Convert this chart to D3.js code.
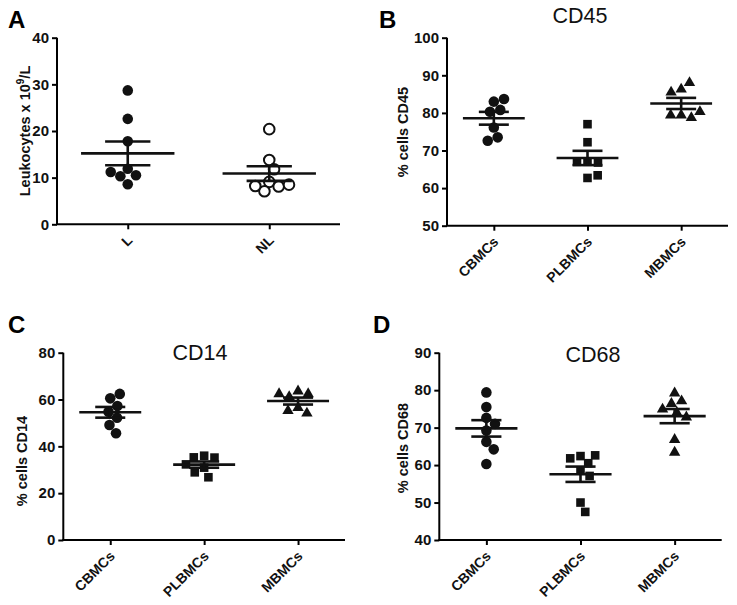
<!DOCTYPE html>
<html>
<head>
<script src="https://cdn.jsdelivr.net/npm/d3@7"></script>
<style>
  body { margin: 0; background: #fff; }
  text { font-family: "Liberation Sans", Arial, sans-serif; }
</style>
</head>
<body>
<script>
// values
var groupsA = ["L", "NL"];
var leukoL = [28.7, 22.6, 17.8, 11.9, 10.5, 10.3, 11.2, 8.6];
var leukoNL = [20.4, 13.8, 11.8, 9.1, 8.1, 7.1, 8.2, 8.5];

var groups3 = ["CBMCs", "PLBMCs", "MBMCs"];
var cd45CB = [83.0, 83.7, 80.8, 80.3, 76.1, 73.5, 72.6];
var cd45PL = [77.0, 72.2, 67.0, 66.8, 67.0, 62.7, 63.4];
var cd45MB = [86.3, 88.0, 85.5, 79.4, 78.7, 79.4, 80.3];

var cd14CB = [60.5, 62.4, 57.2, 54.8, 52.2, 49.1, 45.6];
var cd14PL = [36.0, 35.2, 35.3, 30.9, 32.3, 26.8, 28.9];
var cd14MB = [63.6, 62.4, 61.2, 62.4, 56.5, 54.1, 55.2];

var cd68CB = [79.4, 75.5, 72.6, 71.0, 69.2, 66.2, 64.2, 60.3];
var cd68PL = [62.4, 60.5, 61.8, 62.6, 58.5, 57.1, 50.0, 47.5];
var cd68MB = [79.2, 77.1, 76.4, 74.9, 74.0, 72.8, 66.8, 63.4];

var ticksA = [0, 10, 20, 30, 40];
var ticksB = [50, 60, 70, 80, 90, 100];
var ticksC = [0, 20, 40, 60, 80];
var ticksD = [40, 50, 60, 70, 80, 90];

var svg = d3.select("body").append("svg")
  .attr("width", 737)
  .attr("height", 605)
  .style("background-color", "white");

// spread overlapping points sideways, like a scatter dot plot
function swarm(ys, D) {
  var placed = [];
  ys.forEach(function(y) {
    var cands = [0];
    placed.forEach(function(p) {
      var dy = Math.abs(p.y - y);
      if (dy < D) {
        var dx = Math.sqrt(D * D - dy * dy);
        cands.push(p.x + dx, p.x - dx);
      }
    });
    cands.sort(function(a, b) { return Math.abs(a) - Math.abs(b) || b - a; });
    var x = cands.find(function(c) {
      return placed.every(function(p) {
        return Math.hypot(p.x - c, p.y - y) >= D - 0.01;
      });
    });
    placed.push({x: x, y: y});
  });
  return placed.map(function(p) { return p.x; });
}

function panel(cfg) {
  var g = svg.append("g");
  var x = d3.scalePoint().domain(cfg.groups).range([cfg.x0, cfg.x1]).padding(0.5);
  var y = d3.scaleLinear().domain([cfg.ticks[0], cfg.ticks[cfg.ticks.length - 1]]).range([cfg.y1, cfg.y0]);
  var band = (cfg.x1 - cfg.x0) / cfg.groups.length;

  // y axis
  var ya = g.append("g")
    .attr("transform", "translate(" + cfg.x0 + ",0)")
    .call(d3.axisLeft(y).tickValues(cfg.ticks).tickSize(5).tickPadding(3).tickFormat(d3.format("d")));
  ya.select(".domain").attr("stroke-width", 2).attr("d", "M0," + cfg.y0 + "V" + cfg.y1);
  ya.selectAll(".tick line").attr("stroke-width", 2);
  ya.selectAll(".tick text").attr("font-size", 15).attr("font-weight", "bold").attr("fill", "#111");

  // x axis
  var xa = g.append("g")
    .attr("transform", "translate(0," + cfg.y1 + ")")
    .call(d3.axisBottom(x).tickSize(5).tickSizeOuter(0));
  xa.select(".domain").attr("stroke-width", 2).attr("d", "M" + (cfg.x0 - 1) + ",0H" + cfg.x1);
  xa.selectAll(".tick line").attr("stroke-width", 2);
  xa.selectAll(".tick text")
    .attr("font-size", 14).attr("font-weight", "bold").attr("fill", "#111")
    .attr("text-anchor", "end")
    .attr("y", 0).attr("dy", 0)
    .attr("transform", "translate(5,17) rotate(-45)");

  // y label
  var yl = g.append("text")
    .attr("transform", "translate(" + cfg.labelX + "," + cfg.labelY + ") rotate(-90)")
    .attr("text-anchor", "middle")
    .attr("font-size", 14.5)
    .attr("font-weight", "bold")
    .attr("fill", "#111");
  cfg.label(yl);

  // title
  if (cfg.title) {
    g.append("text")
      .attr("x", cfg.titleX).attr("y", cfg.titleY)
      .attr("text-anchor", "middle")
      .attr("font-size", 21.5)
      .attr("fill", "#111")
      .text(cfg.title);
  }

  // panel letter
  g.append("text")
    .attr("x", cfg.letterX).attr("y", cfg.letterY)
    .attr("font-size", 24).attr("font-weight", "bold")
    .text(cfg.letter);

  cfg.series.forEach(function(vals, i) {
    var cx = x(cfg.groups[i]);
    var ys = vals.map(function(v) { return y(v); });
    var offs = swarm(ys, 10.5);
    var sym = cfg.shapes[i];
    g.selectAll(null).data(vals).enter().append("path")
      .attr("d", d3.symbol().type(sym.type).size(sym.size))
      .attr("transform", function(d, k) { return "translate(" + (cx + offs[k]) + "," + ys[k] + ")"; })
      .attr("fill", sym.open ? "white" : "#111")
      .attr("stroke", sym.open ? "#111" : "none")
      .attr("stroke-width", 2);

    var m = d3.mean(vals);
    var sem = d3.deviation(vals) / Math.sqrt(vals.length);
    var hw = band * 0.33, cw = band * 0.16;
    var lines = [
      [cx - hw, y(m), cx + hw, y(m)],
      [cx - cw, y(m + sem), cx + cw, y(m + sem)],
      [cx - cw, y(m - sem), cx + cw, y(m - sem)],
      [cx, y(m + sem), cx, y(m - sem)]
    ];
    g.selectAll(null).data(lines).enter().append("line")
      .attr("x1", function(d) { return d[0]; })
      .attr("y1", function(d) { return d[1]; })
      .attr("x2", function(d) { return d[2]; })
      .attr("y2", function(d) { return d[3]; })
      .attr("stroke", "#111")
      .attr("stroke-width", 2.6);
  });
}

var circle = {type: d3.symbolCircle, size: 88};
var openCircle = {type: d3.symbolCircle, size: 88, open: true};
var square = {type: d3.symbolSquare, size: 74};
var triangle = {type: d3.symbolTriangle, size: 56};

panel({
  letter: "A", letterX: 8, letterY: 28,
  groups: groupsA, ticks: ticksA,
  x0: 57, x1: 340, y0: 37.7, y1: 224.3,
  labelX: 30, labelY: 131,
  label: function(t) {
    t.append("tspan").text("Leukocytes x 10");
    t.append("tspan").attr("font-size", 10).attr("dy", -6).text("9");
    t.append("tspan").attr("dy", 6).text("/L");
  },
  series: [leukoL, leukoNL],
  shapes: [circle, openCircle]
});

panel({
  letter: "B", letterX: 379, letterY: 28,
  title: "CD45", titleX: 580, titleY: 23,
  groups: groups3, ticks: ticksB,
  x0: 447, x1: 728, y0: 37.7, y1: 225.7,
  labelX: 408, labelY: 132,
  label: function(t) { t.text("% cells CD45"); },
  series: [cd45CB, cd45PL, cd45MB],
  shapes: [circle, square, triangle]
});

panel({
  letter: "C", letterX: 8, letterY: 333,
  title: "CD14", titleX: 200, titleY: 360,
  groups: groups3, ticks: ticksC,
  x0: 63.3, x1: 345, y0: 352.7, y1: 540,
  labelX: 27, labelY: 461,
  label: function(t) { t.text("% cells CD14"); },
  series: [cd14CB, cd14PL, cd14MB],
  shapes: [circle, square, triangle]
});

panel({
  letter: "D", letterX: 373, letterY: 333,
  title: "CD68", titleX: 593, titleY: 362,
  groups: groups3, ticks: ticksD,
  x0: 439.3, x1: 721.7, y0: 352.7, y1: 540,
  labelX: 408, labelY: 448,
  label: function(t) { t.text("% cells CD68"); },
  series: [cd68CB, cd68PL, cd68MB],
  shapes: [circle, square, triangle]
});
</script>
</body>
</html>
